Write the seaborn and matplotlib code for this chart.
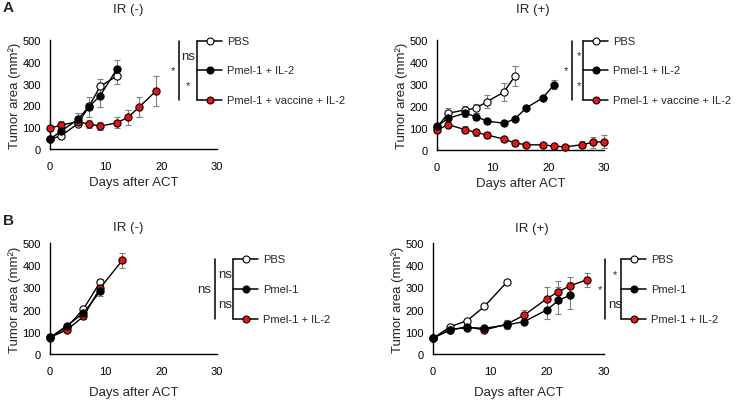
import matplotlib
matplotlib.use('Agg')
import matplotlib.pyplot as plt
import pandas as pd
import seaborn as sns

# ---------------------------------------------------------------- data
# panel A, IR (-)
a_neg_pbs_day = [0, 2, 5, 7, 9, 12]
a_neg_pbs_val = [45, 61, 116, 195, 287, 335]
a_neg_pbs_err = [5, 10, 12, 15, 35, 35]
a_neg_il2_day = [0, 2, 5, 7, 9, 12]
a_neg_il2_val = [46, 81, 137, 194, 244, 366]
a_neg_il2_err = [5, 15, 30, 45, 50, 40]
a_neg_vac_day = [0, 2, 5, 7, 9, 12, 14, 16, 19]
a_neg_vac_val = [95, 110, 125, 115, 105, 120, 145, 192, 265]
a_neg_vac_err = [10, 20, 15, 20, 20, 25, 35, 45, 70]

# panel A, IR (+)
a_pos_pbs_day = [0, 2, 5, 7, 9, 12, 14]
a_pos_pbs_val = [103, 167, 182, 190, 220, 263, 336]
a_pos_pbs_err = [10, 25, 20, 20, 30, 40, 45]
a_pos_il2_day = [0, 2, 5, 7, 9, 12, 14, 16, 19, 21]
a_pos_il2_val = [108, 144, 167, 152, 131, 122, 141, 191, 237, 296]
a_pos_il2_err = [10, 15, 15, 15, 10, 10, 10, 10, 10, 20]
a_pos_vac_day = [0, 2, 5, 7, 9, 12, 14, 16, 19, 21, 23, 26, 28, 30]
a_pos_vac_val = [91, 115, 93, 80, 68, 50, 32, 24, 23, 18, 14, 24, 35, 38]
a_pos_vac_err = [10, 10, 15, 15, 15, 10, 15, 10, 8, 10, 8, 15, 25, 30]

# panel B, IR (-)
b_neg_pbs_day = [0, 3, 6, 9]
b_neg_pbs_val = [75, 120, 202, 324]
b_neg_pbs_err = [5, 10, 10, 15]
b_neg_pm_day = [0, 3, 6, 9]
b_neg_pm_val = [74, 127, 184, 282]
b_neg_pm_err = [5, 10, 10, 20]
b_neg_il2_day = [0, 3, 6, 9, 13]
b_neg_il2_val = [75, 108, 169, 297, 422]
b_neg_il2_err = [5, 10, 10, 20, 35]

# panel B, IR (+)
b_pos_pbs_day = [0, 3, 6, 9, 13]
b_pos_pbs_val = [70, 123, 150, 214, 325]
b_pos_pbs_err = [5, 5, 5, 5, 10]
b_pos_pm_day = [0, 3, 6, 9, 13, 16, 20, 22, 24]
b_pos_pm_val = [72, 110, 119, 116, 131, 146, 199, 241, 264]
b_pos_pm_err = [5, 10, 10, 10, 20, 10, 40, 60, 60]
b_pos_il2_day = [0, 3, 6, 9, 13, 16, 20, 22, 24, 27]
b_pos_il2_val = [72, 108, 123, 108, 135, 175, 250, 280, 307, 334]
b_pos_il2_err = [5, 5, 10, 10, 20, 25, 50, 50, 40, 30]

labels_a = ['PBS', 'Pmel-1 + IL-2', 'Pmel-1 + vaccine + IL-2']
labels_b = ['PBS', 'Pmel-1', 'Pmel-1 + IL-2']

RED = '#ee1111'
faces = ['white', 'black', RED]


def draw_series(ax, day, val, err, face):
    df = pd.DataFrame({'day': day, 'area': val})
    ax.errorbar(day, val, yerr=err, fmt='none', ecolor='#808080',
                elinewidth=0.8, capsize=2.5, capthick=0.8, zorder=2,
                clip_on=False)
    sns.lineplot(data=df, x='day', y='area', ax=ax, color='black',
                 linewidth=1.0, marker='o', markersize=5.2,
                 markerfacecolor=face, markeredgecolor='black',
                 markeredgewidth=0.8, clip_on=False, zorder=3)


def style_axes(ax, xlabelpad):
    ax.set_xlim(0, 30)
    ax.set_ylim(0, 500)
    ax.set_xticks([0, 10, 20, 30])
    ax.set_yticks([0, 100, 200, 300, 400, 500])
    ax.tick_params(direction='out', length=3.5, width=1, labelsize=8,
                   colors='black')
    ax.tick_params(axis='x', pad=5)
    ax.tick_params(axis='y', pad=3)
    for s in ['top', 'right']:
        ax.spines[s].set_visible(False)
    for s in ['left', 'bottom']:
        ax.spines[s].set_linewidth(1)
        ax.spines[s].set_color('black')
    ax.set_xlabel('Days after ACT', fontsize=9.5, labelpad=xlabelpad)
    ax.set_ylabel('Tumor area (mm²)', fontsize=9.5, labelpad=1)
    ax.grid(False)


def draw_key(ov, x_out, x_in, x_end, rows, labels, outer_txt, inner_txt,
             outer_dx, inner_dx):
    # vertical bracket lines
    ov.plot([x_out, x_out], [rows[0], rows[2]], color='black', lw=1.1)
    ov.plot([x_in, x_in], [rows[0], rows[2]], color='black', lw=1.1)
    xm = x_in + (x_end - x_in) * 0.5
    for y, lab, face in zip(rows, labels, faces):
        ov.plot([x_in, x_end], [y, y], color='black', lw=1.1)
        ov.plot([xm], [y], marker='o', markersize=5, markerfacecolor=face,
                markeredgecolor='black', markeredgewidth=0.8)
        ov.text(x_end + 5, y, lab, fontsize=8, va='center', ha='left')
    ov.text(x_out - outer_dx, (rows[0] + rows[2]) / 2, outer_txt,
            fontsize=9.5 if outer_txt == 'ns' else 8, ha='center', va='center')
    for (y1, y2), t in zip([(rows[0], rows[1]), (rows[1], rows[2])], inner_txt):
        ov.text(x_in - inner_dx, (y1 + y2) / 2, t,
                fontsize=9.5 if t == 'ns' else 8, ha='center', va='center')


sns.set_theme(style='white')
plt.rcParams['font.family'] = ['Liberation Sans', 'DejaVu Sans']

W, H = 746, 402
fig = plt.figure(figsize=(W / 100, H / 100), dpi=100)


def add_ax(x0, x1, y0, y1):
    return fig.add_axes([x0 / W, 1 - y1 / H, (x1 - x0) / W, (y1 - y0) / H])


ax_an = add_ax(50, 217, 41, 150)
ax_ap = add_ax(437, 604, 41, 151)
ax_bn = add_ax(50, 217, 244, 355)
ax_bp = add_ax(433, 604, 244, 355)

panels = [
    (ax_an, [(a_neg_pbs_day, a_neg_pbs_val, a_neg_pbs_err),
             (a_neg_vac_day, a_neg_vac_val, a_neg_vac_err),
             (a_neg_il2_day, a_neg_il2_val, a_neg_il2_err)], 4),
    (ax_ap, [(a_pos_pbs_day, a_pos_pbs_val, a_pos_pbs_err),
             (a_pos_vac_day, a_pos_vac_val, a_pos_vac_err),
             (a_pos_il2_day, a_pos_il2_val, a_pos_il2_err)], 4),
    (ax_bn, [(b_neg_pbs_day, b_neg_pbs_val, b_neg_pbs_err),
             (b_neg_il2_day, b_neg_il2_val, b_neg_il2_err),
             (b_neg_pm_day, b_neg_pm_val, b_neg_pm_err)], 7),
    (ax_bp, [(b_pos_pbs_day, b_pos_pbs_val, b_pos_pbs_err),
             (b_pos_il2_day, b_pos_il2_val, b_pos_il2_err),
             (b_pos_pm_day, b_pos_pm_val, b_pos_pm_err)], 7),
]
# draw order: PBS, red, black
draw_faces = ['white', RED, 'black']
for ax, series, lp in panels:
    for (d, v, e), face in zip(series, draw_faces):
        draw_series(ax, d, v, e, face)
    style_axes(ax, lp)

# titles and panel letters
fig.text(128 / W, 1 - 10 / H, 'IR (-)', fontsize=9.5, ha='center', va='center')
fig.text(533 / W, 1 - 10 / H, 'IR (+)', fontsize=9.5, ha='center', va='center')
fig.text(128 / W, 1 - 228 / H, 'IR (-)', fontsize=9.5, ha='center', va='center')
fig.text(532 / W, 1 - 229 / H, 'IR (+)', fontsize=9.5, ha='center', va='center')
fig.text(8 / W, 1 - 8 / H, 'A', fontsize=11, fontweight='bold',
         ha='center', va='center')
fig.text(8 / W, 1 - 221 / H, 'B', fontsize=11, fontweight='bold',
         ha='center', va='center')

# overlay for significance brackets
ov = fig.add_axes([0, 0, 1, 1], facecolor='none')
ov.set_xlim(0, W)
ov.set_ylim(H, 0)
ov.axis('off')

draw_key(ov, 179, 197, 222, [42, 71, 101], labels_a, '*', ['ns', '*'], 6, 9)
draw_key(ov, 572, 583, 608, [42, 71, 101], labels_a, '*', ['*', '*'], 6, 4)
draw_key(ov, 215, 233, 258, [260, 290, 320], labels_b, 'ns', ['ns', 'ns'],
         11, 8)
draw_key(ov, 605, 621, 646, [260, 290, 320], labels_b, '*', ['*', 'ns'], 5,
         6)

plt.savefig('out.png', dpi=100, facecolor='white')
